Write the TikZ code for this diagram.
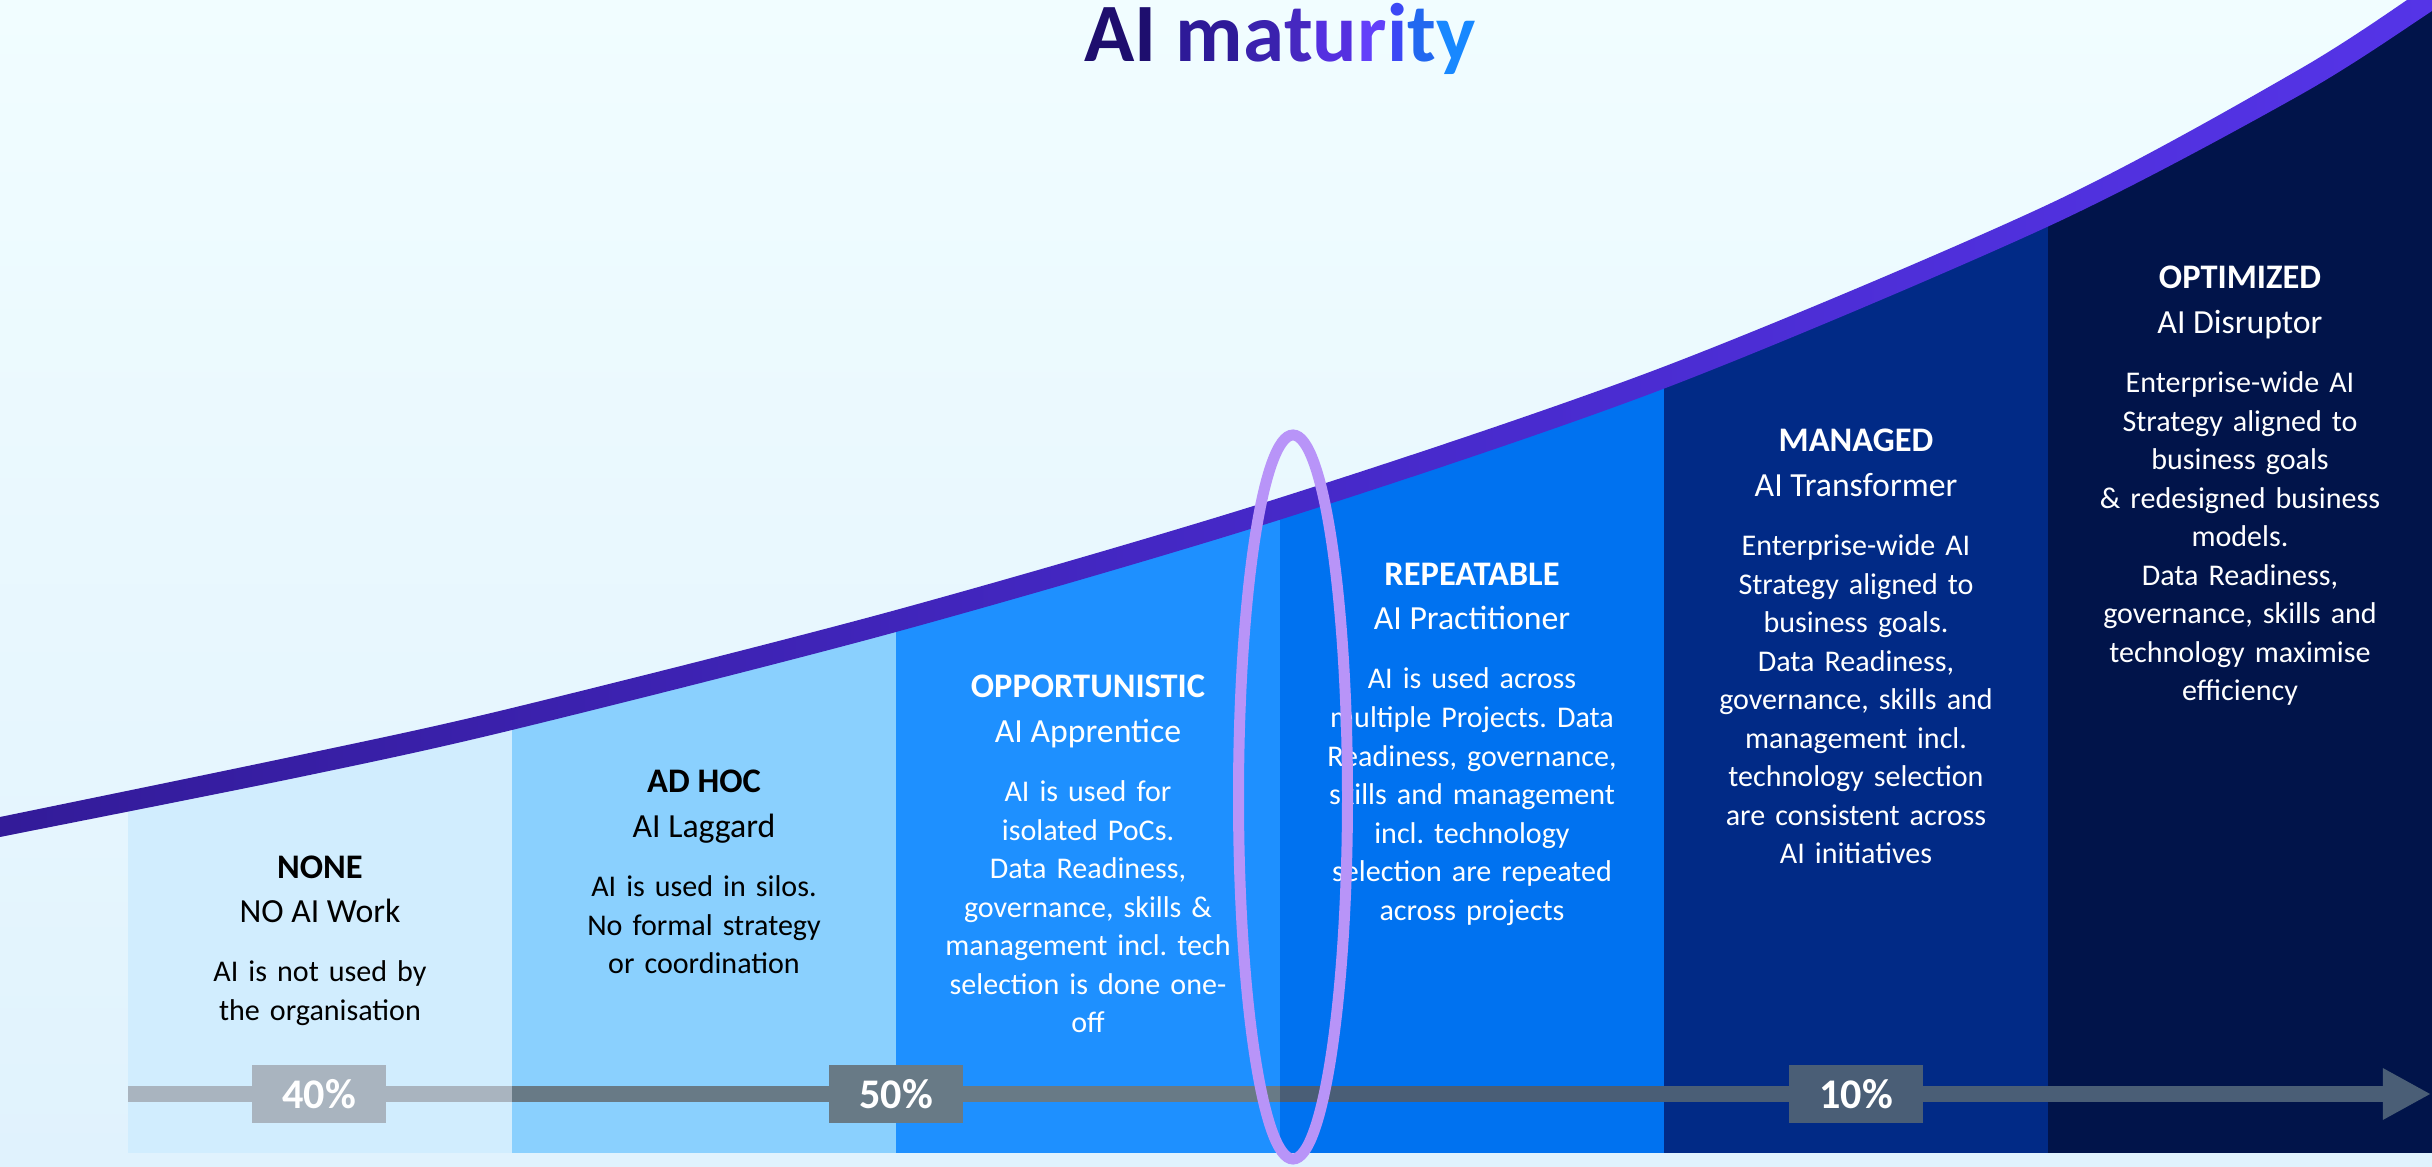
\documentclass[tikz,border=0pt]{standalone}
\usepackage{fontspec}
\setmainfont{Carlito}
\frenchspacing
\usetikzlibrary{arrows.meta}
\definecolor{bgtop}{HTML}{F1FDFF}
\definecolor{bgbot}{HTML}{E0F2FD}
\definecolor{cola}{HTML}{D1EDFE}
\definecolor{colb}{HTML}{8AD0FE}
\definecolor{colc}{HTML}{1E90FF}
\definecolor{cold}{HTML}{0072F0}
\definecolor{cole}{HTML}{012A86}
\definecolor{colf}{HTML}{01144A}
\definecolor{bara}{HTML}{A9B4BF}
\definecolor{barb}{HTML}{687A86}
\definecolor{barc}{HTML}{4A5E76}
\definecolor{ringc}{HTML}{B894F8}
\definecolor{banda}{HTML}{1F0D68}
\definecolor{bandb}{HTML}{4528C6}
\definecolor{bandc}{HTML}{5A38F2}
\definecolor{bandd}{HTML}{4249FA}
\definecolor{tia}{HTML}{1E0E6E}
\definecolor{tib}{HTML}{2E1A98}
\definecolor{tic}{HTML}{3A22AE}
\definecolor{tid}{HTML}{4628C0}
\definecolor{tie}{HTML}{5530E0}
\definecolor{tif}{HTML}{6340FA}
\definecolor{tig}{HTML}{3C48F5}
\definecolor{tih}{HTML}{2268F0}
\definecolor{tii}{HTML}{1888FF}
\pgfdeclarehorizontalshading{bandshade}{100bp}{color(0bp)=(banda); color(50bp)=(bandb); color(82bp)=(bandc); color(100bp)=(bandd)}
\begin{document}
\begin{tikzpicture}[x=0.01cm,y=-0.01cm,anchor=base,
  stagehead/.style={font=\fontsize{9.8}{11}\selectfont\bfseries},
  stagename/.style={font=\fontsize{9.6}{11}\selectfont},
  stagetext/.style={font=\fontsize{8.55}{10.95}\selectfont,text width=3.8cm,align=center},
  pct/.style={anchor=center,minimum width=1.34cm,minimum height=0.58cm,inner sep=0pt,text=white,font=\fontsize{12}{14}\selectfont\bfseries},
  bar/.style={line width=0.16cm}]
\clip (0,0) rectangle (2432,1167);
\shade[top color=bgtop,bottom color=bgbot] (0,0) rectangle (2432,1167);
% columns, cut off by the curve
\begin{scope}
\clip plot[smooth] coordinates {(-40,836) (0,827) (300,766) (512,719) (896,621) (1279,509) (1663,378) (2047,216) (2300,82) (2432,-3) (2480,-36)} -- (2480,1200) -- (-40,1200) -- cycle;
\fill[cola] (128,0) rectangle (512,1153);
\fill[colb] (512,0) rectangle (896,1153);
\fill[colc] (896,0) rectangle (1280,1153);
\fill[cold] (1280,0) rectangle (1664,1153);
\fill[cole] (1664,0) rectangle (2048,1153);
\fill[colf] (2048,0) rectangle (2432,1153);
\end{scope}
% maturity curve
\shade[shading=bandshade] plot[smooth] coordinates {(-40,825) (0,817) (300,755) (512,708) (896,610) (1279,498) (1663,367) (2047,205) (2300,69) (2432,-17) (2480,-50)}
  -- plot[smooth] coordinates {(2480,-22) (2432,11) (2300,95) (2047,227) (1663,389) (1279,520) (896,632) (512,730) (300,777) (0,837) (-40,845)} -- cycle;
% timeline
\coordinate (t0) at (128,1094); \coordinate (t1) at (512,1094);
\coordinate (t2) at (1280,1094); \coordinate (tend) at (2431,1094);
\draw[bar,bara] (t0) -- (t1);
\draw[bar,barb] (t1) -- (t2);
\draw[bar,barc,-{Triangle[length=0.48cm,width=0.48cm]}] (t2) -- (tend);
\node[pct,fill=bara] (p40) at (319,1094) {40\%};
\node[pct,fill=barb] (p50) at (896,1094) {50\%};
\node[pct,fill=barc] (p10) at (1856,1094) {10\%};
% stages
\node[stagehead] (noneHead) at (320,878) {NONE};
\node[stagename] (noneName) at (320,922.5) {NO AI Work};
\node[stagetext] (noneText) at (320,981.5) {AI is not used by\\the organisation};
\node[stagehead] (adhocHead) at (704,793) {AD HOC};
\node[stagename] (adhocName) at (704,837.5) {AI Laggard};
\node[stagetext] (adhocText) at (704,896.5) {AI is used in silos.\\No formal strategy\\or coordination};
\node[stagehead,white] (oppHead) at (1088,698) {OPPORTUNISTIC};
\node[stagename,white] (oppName) at (1088,742.5) {AI Apprentice};
\node[stagetext,white] (oppText) at (1088,801.5) {AI is used for\\isolated PoCs.\\Data Readiness,\\governance, skills \&\\management incl. tech\\selection is done one-\\off};
\node[stagehead,white] (repHead) at (1472,585.5) {REPEATABLE};
\node[stagename,white] (repName) at (1472,630) {AI Practitioner};
\node[stagetext,white] (repText) at (1472,689) {AI is used across\\multiple Projects. Data\\Readiness, governance,\\skills and management\\incl. technology\\selection are repeated\\across projects};
\node[stagehead,white] (manHead) at (1856,452) {MANAGED};
\node[stagename,white] (manName) at (1856,496.5) {AI Transformer};
\node[stagetext,white] (manText) at (1856,555.5) {Enterprise-wide AI\\Strategy aligned to\\business goals.\\Data Readiness,\\governance, skills and\\management incl.\\technology selection\\are consistent across\\AI initiatives};
\node[stagehead,white] (optHead) at (2240,289) {OPTIMIZED};
\node[stagename,white] (optName) at (2240,333.5) {AI Disruptor};
\node[stagetext,white] (optText) at (2240,392.5) {Enterprise-wide AI\\Strategy aligned to\\business goals\\\& redesigned business\\models.\\Data Readiness,\\governance, skills and\\technology maximise\\efficiency};
% title
\node[font=\fontsize{23.6}{28}\selectfont\bfseries] (title) at (1280,62) {\color{tia}AI \color{tib}m\color{tic}a\color{tid}t\color{tie}u\color{tif}r\color{tig}i\color{tih}t\color{tii}y};
% ring
\draw[ringc,line width=0.11cm] (1293,797) ellipse [x radius=54.5,y radius=362];
\end{tikzpicture}
\end{document}
